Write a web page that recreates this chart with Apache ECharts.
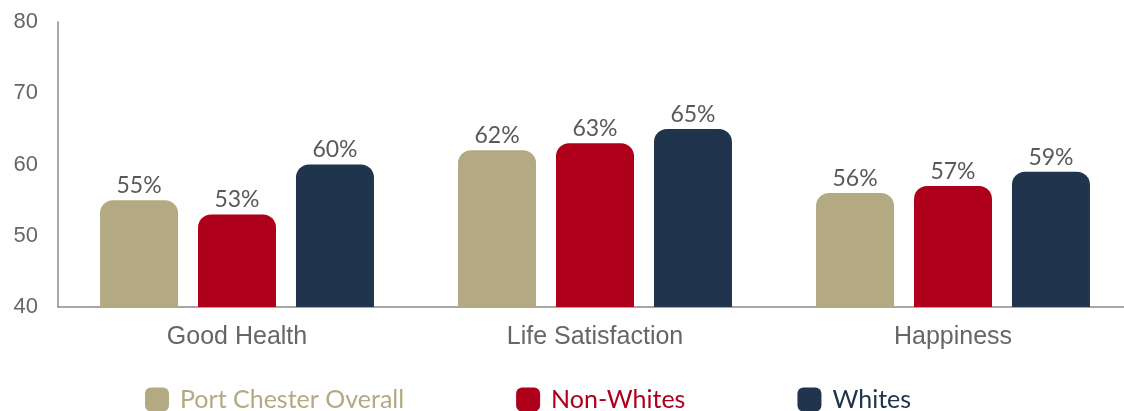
<!DOCTYPE html>
<html>
<head>
<meta charset="utf-8">
<script src="https://cdn.jsdelivr.net/npm/echarts@6/dist/echarts.min.js"></script>
<style>
  html, body { margin: 0; padding: 0; background: #fff; overflow: hidden; }
  /* the x axis runs on past the right edge, so the chart is a bit wider than the window */
  #chart { width: 1132px; height: 411px; }
</style>
</head>
<body>
<div id="chart"></div>
<script>
const categories = ['Good Health', 'Life Satisfaction', 'Happiness']
const seriesNames = ['Port Chester Overall', 'Non-Whites', 'Whites']
const overall = [55, 62, 56]
const nonWhites = [53, 63, 57]
const whites = [60, 65, 59]
const colors = ['#B3A983', '#AE001B', '#20344E']

const myEcharts = echarts.init(document.getElementById('chart'))

// one bar series per group
function makeSeries(name, values, color) {
  return {
    name: name,
    type: 'bar',
    data: values,
    barWidth: 78,
    barGap: '25.6%',
    itemStyle: { color: color, borderRadius: [13, 13, 0, 0] },
    label: {
      show: true,
      position: 'top',
      distance: 3,
      formatter: '{c}%',
      color: '#595959',
      fontFamily: 'Lato',
      fontSize: 23
    }
  }
}

const option = {
  animation: false,
  grid: { left: 58, right: 0, top: 22, bottom: 104, containLabel: false },
  legend: {
    left: 145,
    top: 387,
    padding: 0,
    itemWidth: 24,
    itemHeight: 24,
    itemGap: 112,
    icon: 'roundRect',
    textStyle: { fontFamily: 'Lato', fontSize: 25, padding: [0, 0, 0, 6] },
    data: seriesNames.map((n, i) => ({ name: n, textStyle: { color: colors[i] } }))
  },
  xAxis: {
    type: 'category',
    data: categories,
    axisLine: { lineStyle: { color: '#8a8a8a', width: 1.5 } },
    axisTick: { show: false },
    axisLabel: { color: '#666666', fontFamily: 'Liberation Sans', fontSize: 25, margin: 18 }
  },
  yAxis: {
    type: 'value',
    min: 40,
    max: 80,
    interval: 10,
    axisLine: { show: true, lineStyle: { color: '#8a8a8a', width: 1.5 } },
    axisTick: { show: false },
    splitLine: { show: false },
    axisLabel: { color: '#666666', fontFamily: 'Liberation Sans', fontSize: 22, margin: 20 }
  },
  series: [
    makeSeries(seriesNames[0], overall, colors[0]),
    makeSeries(seriesNames[1], nonWhites, colors[1]),
    makeSeries(seriesNames[2], whites, colors[2])
  ]
}

myEcharts.setOption(option)
</script>
</body>
</html>
